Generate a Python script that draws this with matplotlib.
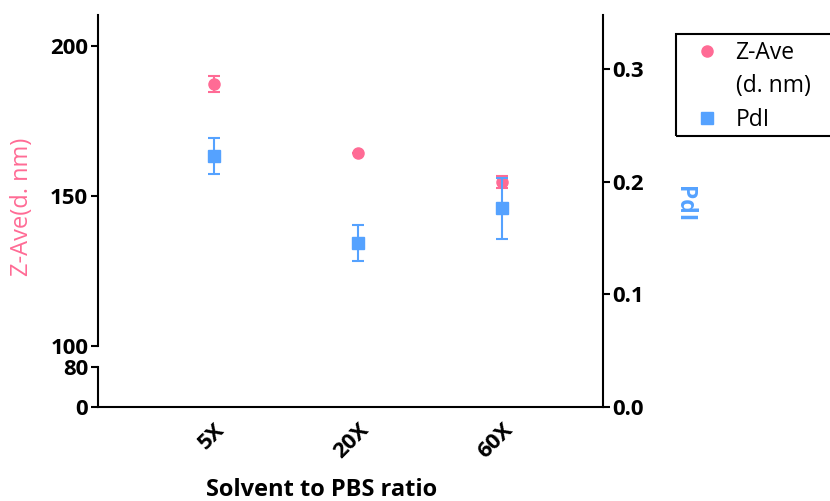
import matplotlib
matplotlib.use("Agg")
import matplotlib.pyplot as plt
from matplotlib.lines import Line2D
from matplotlib.patches import Rectangle

# data
ratios = ["5X", "20X", "60X"]
zave = [187.2, 164.4, 154.5]
zave_err = [2.7, 0.0, 2.0]
pdi = [0.223, 0.1455, 0.1766]
pdi_err = [0.016, 0.016, 0.027]

PINK = "#FF6B95"
BLUE = "#55A2FF"

plt.rcParams["font.family"] = ["Open Sans", "DejaVu Sans"]

W_PX, H_PX = 830, 501
fig = plt.figure(figsize=(W_PX / 100, H_PX / 100), dpi=100)


def box(x0, y_top, x1, y_bot):
    # pixel box -> figure fractions
    return [x0 / W_PX, 1 - y_bot / H_PX, (x1 - x0) / W_PX, (y_bot - y_top) / H_PX]


ax_bot = fig.add_axes(box(98, 367, 603, 407))
ax_top = fig.add_axes(box(98, 15, 603, 346))
ax_r = fig.add_axes(box(98, 15, 603, 407))

x = list(range(len(ratios)))
xlim = (-0.806, 2.701)

for ax in (ax_bot, ax_top, ax_r):
    ax.set_xlim(*xlim)
    ax.patch.set_visible(False)
    for s in ax.spines.values():
        s.set_visible(False)
        s.set_linewidth(1.5)
    ax.tick_params(width=1.5, length=5, labelsize=16, pad=2)

# left broken axis
ax_top.set_ylim(100, 210.3)
ax_top.set_yticks([100, 150, 200])
ax_top.spines["left"].set_visible(True)
ax_top.set_xticks([])

ax_bot.set_ylim(0, 80)
ax_bot.set_yticks([0, 80])
ax_bot.spines["left"].set_visible(True)
ax_bot.spines["bottom"].set_visible(True)
ax_bot.set_xticks(x)
ax_bot.set_xticklabels(ratios, rotation=45, ha="right", va="top",
                       rotation_mode="anchor", fontweight="bold", fontsize=16)
ax_bot.tick_params(axis="x", length=0, pad=9)

for ax in (ax_top, ax_bot):
    for lab in ax.get_yticklabels():
        lab.set_fontweight("bold")

# right axis
ax_r.set_ylim(0, 0.3484)
ax_r.set_yticks([0.0, 0.1, 0.2, 0.3])
ax_r.set_yticklabels(["0.0", "0.1", "0.2", "0.3"], fontweight="bold")
ax_r.yaxis.tick_right()
ax_r.spines["right"].set_visible(True)
ax_r.set_xticks([])

ax_top.errorbar(x, zave, yerr=zave_err, fmt="o", color=PINK, ms=8,
                capsize=4.5, elinewidth=1.5, capthick=1.5)
ax_r.errorbar(x, pdi, yerr=pdi_err, fmt="s", color=BLUE, ms=8,
              capsize=4.5, elinewidth=1.5, capthick=1.5)

fig.text(22 / W_PX, 1 - 207 / H_PX, "Z-Ave(d. nm)", rotation=90, color=PINK,
         fontsize=17, ha="center", va="center")
fig.text(684 / W_PX, 1 - 204 / H_PX, "PdI", rotation=270, color=BLUE,
         fontsize=16.5, fontweight="bold", ha="center", va="center")
fig.text(322 / W_PX, 1 - 490 / H_PX, "Solvent to PBS ratio", fontsize=17,
         fontweight="bold", ha="center", va="center")

handles = [
    Line2D([], [], ls="none", marker="o", color=PINK, ms=8),
    Line2D([], [], ls="none"),
    Line2D([], [], ls="none", marker="s", color=BLUE, ms=8),
]
leg = fig.legend(handles, ["Z-Ave", "(d. nm)", "PdI"], loc="upper left",
                 bbox_to_anchor=(676 / W_PX, 1 - 34 / H_PX), borderaxespad=0,
                 fontsize=16.5, frameon=False, borderpad=0.3,
                 labelspacing=0.42, handletextpad=0.2, handlelength=2.1)

# legend frame runs off the right edge of the picture, as in the original
fig.add_artist(Rectangle((676 / W_PX, 1 - 136 / H_PX), 180 / W_PX, 102 / H_PX,
                         transform=fig.transFigure, fill=False,
                         edgecolor="black", linewidth=1.5, clip_on=False))

fig.savefig("out.png", dpi=100)
